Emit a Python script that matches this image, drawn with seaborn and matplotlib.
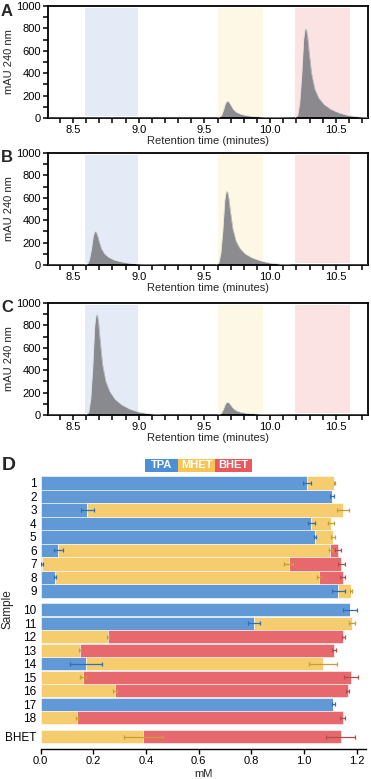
import matplotlib.pyplot as plt
from matplotlib.patches import Rectangle
from matplotlib.ticker import MultipleLocator
import seaborn as sns

# ---------------------------------------------------------------
# HPLC traces (retention time in minutes, mAU at 240 nm)
# ---------------------------------------------------------------
a_time = [8.31, 9.595, 9.615, 9.63, 9.645, 9.66, 9.669, 9.675, 9.681, 9.69, 9.70, 9.72, 9.745,
          9.775, 9.815, 9.865, 9.925, 9.995, 10.075, 10.175,
          10.19, 10.21, 10.225, 10.24, 10.255, 10.264, 10.27, 10.276, 10.285, 10.295, 10.315,
          10.34, 10.37, 10.41, 10.46, 10.52, 10.59, 10.67, 10.745]
a_mau = [0, 0, 4.5, 24, 70, 130, 146, 150, 148, 135, 115, 75, 50,
         35, 23, 15, 9, 4.5, 2, 0,
         0, 24, 130, 370, 700, 785, 800, 792, 730, 610, 400,
         260, 180, 122, 80, 48, 24, 10, 2]

b_time = [8.31, 8.59, 8.61, 8.625, 8.64, 8.655, 8.664, 8.67, 8.676, 8.685, 8.695, 8.715, 8.74,
          8.77, 8.81, 8.86, 8.92, 8.99, 9.07, 9.17,
          9.59, 9.61, 9.625, 9.64, 9.655, 9.664, 9.67, 9.676, 9.685, 9.695, 9.715,
          9.74, 9.77, 9.81, 9.86, 9.92, 9.99, 10.07, 10.17, 10.745]
b_mau = [0, 0, 9, 48, 138, 262, 294, 300, 297, 270, 228, 150, 100,
         70, 46, 30, 18, 9, 4, 0,
         0, 20, 106, 304, 578, 648, 660, 654, 600, 502, 330,
         215, 150, 100, 66, 40, 20, 8, 0, 0]

c_time = [8.31, 8.60, 8.62, 8.635, 8.65, 8.665, 8.674, 8.68, 8.686, 8.695, 8.705, 8.725, 8.75,
          8.78, 8.82, 8.87, 8.93, 9.00, 9.08, 9.18,
          9.595, 9.615, 9.63, 9.645, 9.66, 9.669, 9.675, 9.681, 9.69, 9.70, 9.72,
          9.745, 9.775, 9.815, 9.865, 9.925, 9.995, 10.075, 10.175, 10.745]
c_mau = [0, 0, 27, 145, 415, 790, 884, 900, 892, 820, 685, 450, 300,
         210, 140, 92, 54, 27, 11, 0,
         0, 3.5, 18, 53, 100, 112, 115, 113, 103, 88, 57,
         38, 26, 17, 11.5, 7, 3.5, 1.4, 0, 0]

# retention windows for TPA / MHET / BHET
windows = [(8.595, 8.995), (9.60, 9.945), (10.19, 10.61)]

# ---------------------------------------------------------------
# Panel D: composition per sample (mM), stacked TPA | MHET | BHET
# ---------------------------------------------------------------
samples = ['1', '2', '3', '4', '5', '6', '7', '8', '9',
           '10', '11', '12', '13', '14', '15', '16', '17', '18', 'BHET']
tpa = [1.011, 1.106, 0.177, 1.027, 1.042, 0.067, 0.006, 0.054, 1.130,
       1.175, 0.810, 0, 0, 0.172, 0, 0, 1.111, 0, 0]
tpa_err = [0.017, 0.007, 0.025, 0.014, 0.004, 0.018, 0.003, 0.003, 0.024,
           0.027, 0.022, 0, 0, 0.060, 0, 0, 0.006, 0, 0]
mhet = [0.104, 0, 0.972, 0.076, 0.068, 1.032, 0.935, 1.004, 0.047,
        0, 0.371, 0.254, 0.149, 0.900, 0.162, 0.282, 0, 0.139, 0.390]
mhet_err = [0.003, 0, 0.023, 0.011, 0.006, 0.006, 0.018, 0.008, 0.003,
            0, 0.012, 0.004, 0.004, 0.052, 0.011, 0.008, 0, 0.004, 0.074]
bhet = [0, 0, 0, 0, 0, 0.029, 0.200, 0.088, 0,
        0, 0, 0.895, 0.965, 0, 1.016, 0.884, 0, 1.007, 0.749]
bhet_err = [0, 0, 0, 0, 0, 0.011, 0.013, 0.008, 0,
            0, 0, 0.006, 0.009, 0, 0.025, 0.006, 0, 0.008, 0.056]
group_sizes = [9, 9, 1]

sns.set_theme(style="ticks")
plt.rcParams['font.family'] = ['Liberation Sans', 'DejaVu Sans']

W, H = 371, 779
fig = plt.figure(figsize=(W / 100, H / 100), dpi=100)

shade_cols = ['#e4ebf6', '#fdf7e6', '#fbe3e3']
bar_cols = ['#6199d6', '#f5cd6e', '#e8696d']
key_cols = ['#4d8fd6', '#f6c457', '#e9575f']
err_cols = ['#2f6db5', '#c79d35', '#b44a50']


def px_axes(x0, y0, x1, y1):
    return fig.add_axes([x0 / W, 1 - y1 / H, (x1 - x0) / W, (y1 - y0) / H])


# -------------------------------
# Chromatograms A-C
# -------------------------------
traces = [(a_time, a_mau), (b_time, b_mau), (c_time, c_mau)]
tops = [6, 153, 303]
for letter, (t, v), top in zip("ABC", traces, tops):
    ax = px_axes(48, top, 368, top + 112)
    for (lo, hi), col in zip(windows, shade_cols):
        ax.axvspan(lo, hi, ymin=0.015, ymax=0.985, color=col, lw=0, zorder=0)
    ax.fill_between(t, v, 0, color='#7d7d82', alpha=0.88, lw=0, zorder=2)
    sns.lineplot(x=t, y=v, ax=ax, color='#d8d8da', lw=0.35, zorder=3, sort=False)
    ax.set_xlim(8.31, 10.745)
    ax.set_ylim(0, 1000)
    ax.set_xticks([8.5, 9.0, 9.5, 10.0, 10.5])
    ax.set_xticklabels(['8.5', '9.0', '9.5', '10.0', '10.5'])
    ax.xaxis.set_minor_locator(MultipleLocator(0.1))
    ax.set_yticks(range(0, 1001, 200))
    ax.yaxis.set_minor_locator(MultipleLocator(100))
    ax.tick_params(which='both', length=3.5, width=1.1, labelsize=8, pad=1.5,
                   direction='out', color='black', labelcolor='black')
    for sp in ax.spines.values():
        sp.set_linewidth(1.3)
        sp.set_color('black')
    ax.set_xlabel("Retention time (minutes)", fontsize=8, labelpad=1)
    ax.set_ylabel("mAU 240 nm", fontsize=8, labelpad=1.5)
    fig.text(1 / W, 1 - (top + 5) / H, letter, fontsize=12, fontweight='bold',
             ha='left', va='center')

# -------------------------------
# Stacked composition bars D
# -------------------------------
pos = []
p = 0.0
for g in group_sizes:
    for i in range(g):
        pos.append(p)
        p += 1
    p += 0.4

axd = px_axes(40.7, 470, 366, 749)
left = [0.0] * len(samples)
for vals, errs, col, ecol in zip([tpa, mhet, bhet], [tpa_err, mhet_err, bhet_err],
                                 bar_cols, err_cols):
    axd.barh(pos, vals, left=left, height=0.97, color=col, edgecolor='#ffffff',
             linewidth=0.4, zorder=2)
    ends = [l + v for l, v in zip(left, vals)]
    for y, e, v, er in zip(pos, ends, vals, errs):
        if v > 0 and er > 0:
            axd.errorbar(e, y, xerr=er, fmt='none', ecolor=ecol, elinewidth=0.9,
                         capsize=1.6, capthick=0.9, zorder=4)
    left = ends

axd.set_ylim(19.7, -0.96)
axd.set_xlim(0, 1.235)
axd.set_yticks(pos)
axd.set_yticklabels(samples)
axd.set_xticks([0, 0.2, 0.4, 0.6, 0.8, 1.0, 1.2])
axd.set_xticklabels(['0.0', '0.2', '0.4', '0.6', '0.8', '1.0', '1.2'])
axd.tick_params(axis='y', length=0, labelsize=8.5, pad=3, labelcolor='black')
axd.tick_params(axis='x', length=3.5, width=1, labelsize=8, pad=1.5,
                color='black', labelcolor='black')
sns.despine(ax=axd, left=True)
axd.spines['bottom'].set_linewidth(1.0)
axd.spines['bottom'].set_color('black')
axd.set_xlabel("mM", fontsize=8, labelpad=2)
axd.set_ylabel("Sample", fontsize=8.5)
axd.yaxis.set_label_coords(-0.085, 0.5)

# legend keys drawn as coloured boxes
keys = [("TPA", 145, 178), ("MHET", 178, 215), ("BHET", 215, 252)]
for (name, x0, x1), col in zip(keys, key_cols):
    fig.add_artist(Rectangle((x0 / W, 1 - 472 / H), (x1 - x0) / W, 13 / H,
                             transform=fig.transFigure, color=col, lw=0))
    fig.text((x0 + x1) / 2 / W, 1 - 465.5 / H, name, color='white', fontsize=8,
             fontweight='bold', ha='center', va='center')

fig.text(2 / W, 1 - 465 / H, "D", fontsize=14, fontweight='bold',
         ha='left', va='center')

fig.savefig("out.png", dpi=100)
